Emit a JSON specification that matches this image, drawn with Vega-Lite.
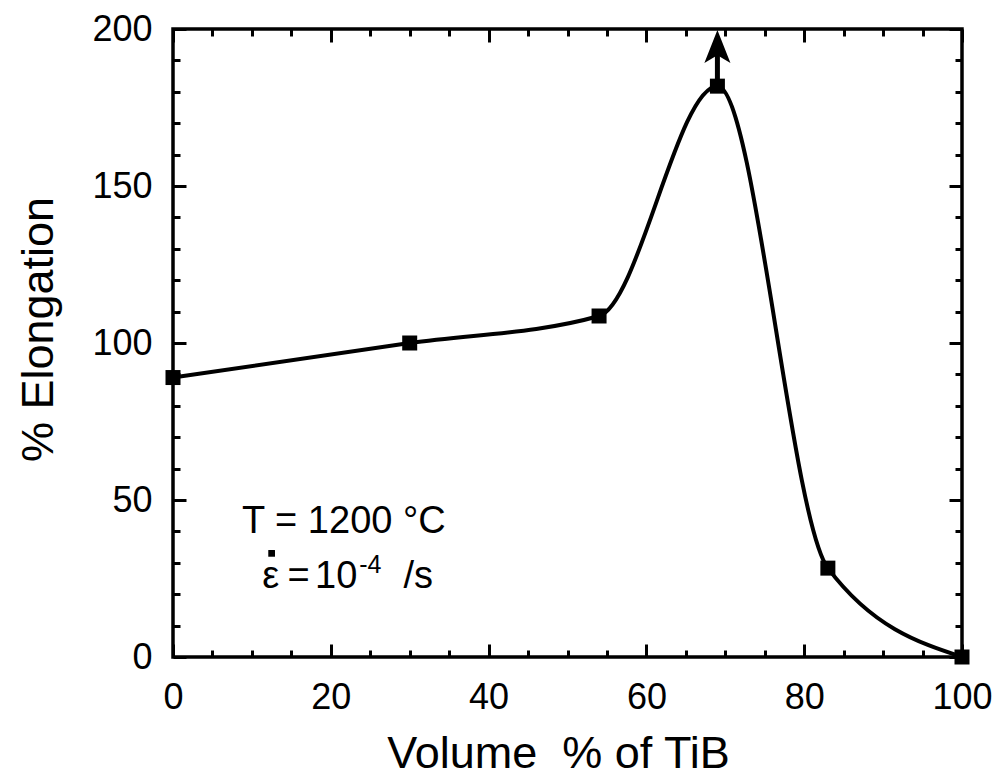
{
  "$schema": "https://vega.github.io/schema/vega-lite/v6.json",
  "autosize": {"type": "none"},
  "padding": {"left": 173, "top": 29, "right": 35, "bottom": 121},
  "width": 789,
  "height": 628,
  "background": "white",
  "config": {
    "font": "Liberation Sans",
    "view": {"stroke": "black", "strokeWidth": 3.5},
    "axis": {"domain": false, "grid": false, "tickColor": "black", "tickWidth": 3, "labelColor": "black", "titleColor": "black", "labelFont": "Liberation Sans", "titleFont": "Liberation Sans", "labelFontSize": 36, "titleFontSize": 45, "titleFontWeight": "normal"}
  },
  "datasets": {
    "pts": [
      {"vol": 0, "elong": 89.0},
      {"vol": 30, "elong": 100.0},
      {"vol": 54, "elong": 108.6},
      {"vol": 69, "elong": 181.8},
      {"vol": 83, "elong": 28.3},
      {"vol": 100, "elong": 0}
    ],
    "arrow": [{"vol": 69, "start": 184, "end": 192, "head": 194.4}],
    "labels": [
      {"x": 8.75, "y": 39.6, "t": "T = 1200 °C"},
      {"x": 11.3, "y": 22.0, "t": "ε"},
      {"x": 14.5, "y": 22.0, "t": "="},
      {"x": 18.0, "y": 22.0, "t": "10"},
      {"x": 29.2, "y": 22.0, "t": "/s"}
    ],
    "sup": [{"x": 23.6, "y": 26.8, "t": "-4"}],
    "dot": [{"x": 12.5, "y": 33.0}]
  },
  "resolve": {"axis": {"x": "independent", "y": "independent"}},
  "layer": [
    {
      "data": {"name": "pts"},
      "mark": {"type": "line", "interpolate": "monotone", "color": "black", "strokeWidth": 4},
      "encoding": {
        "x": {"field": "vol", "type": "quantitative", "scale": {"domain": [0, 100], "nice": false, "zero": false},
          "axis": {"orient": "bottom", "values": [0,5,10,15,20,25,30,35,40,45,50,55,60,65,70,75,80,85,90,95,100],
            "labelExpr": "datum.value % 20 === 0 ? datum.label : ''",
            "tickSize": {"condition": {"test": "datum.value % 20 === 0", "value": -13}, "value": -7},
            "labelBaseline": "alphabetic", "labelPadding": 64, "labelOverlap": false, "labelFlush": false,
            "title": "Volume\u00a0 % of TiB", "titleBaseline": "alphabetic", "titleX": 385, "titleY": 110}},
        "y": {"field": "elong", "type": "quantitative", "scale": {"domain": [0, 200], "nice": false},
          "axis": {"orient": "left", "values": [0,10,20,30,40,50,60,70,80,90,100,110,120,130,140,150,160,170,180,190,200],
            "labelExpr": "datum.value % 50 === 0 ? datum.label : ''",
            "tickSize": {"condition": {"test": "datum.value % 50 === 0", "value": -13}, "value": -7},
            "labelPadding": 34, "labelOverlap": false, "labelFlush": false,
            "title": "% Elongation", "titleBaseline": "alphabetic", "titleX": -121, "titleY": 300}}
      }
    },
    {
      "data": {"name": "pts"},
      "mark": {"type": "point", "shape": "square", "filled": true, "color": "black", "opacity": 1, "size": 225},
      "encoding": {
        "x": {"field": "vol", "type": "quantitative",
          "axis": {"orient": "top", "values": [0,5,10,15,20,25,30,35,40,45,50,55,60,65,70,75,80,85,90,95,100],
            "labels": false, "title": null,
            "tickSize": {"condition": {"test": "datum.value % 20 === 0", "value": -13}, "value": -7}}},
        "y": {"field": "elong", "type": "quantitative",
          "axis": {"orient": "right", "values": [0,10,20,30,40,50,60,70,80,90,100,110,120,130,140,150,160,170,180,190,200],
            "labels": false, "title": null,
            "tickSize": {"condition": {"test": "datum.value % 50 === 0", "value": -13}, "value": -7}}}
      }
    },
    {
      "data": {"name": "arrow"},
      "mark": {"type": "rule", "color": "black", "strokeWidth": 5},
      "encoding": {
        "x": {"field": "vol", "type": "quantitative", "axis": null},
        "y": {"field": "start", "type": "quantitative", "axis": null},
        "y2": {"field": "end"}
      }
    },
    {
      "data": {"name": "arrow"},
      "mark": {"type": "point", "shape": "M0,-1L0.79,1L0,0.52L-0.79,1Z", "filled": true, "color": "black", "opacity": 1, "size": 1089, "strokeWidth": 0},
      "encoding": {
        "x": {"field": "vol", "type": "quantitative", "axis": null},
        "y": {"field": "head", "type": "quantitative", "axis": null}
      }
    },
    {
      "data": {"name": "labels"},
      "mark": {"type": "text", "align": "left", "baseline": "alphabetic", "fontSize": 38, "color": "black", "font": "Liberation Sans"},
      "encoding": {
        "x": {"field": "x", "type": "quantitative", "axis": null},
        "y": {"field": "y", "type": "quantitative", "axis": null},
        "text": {"field": "t"}
      }
    },
    {
      "data": {"name": "sup"},
      "mark": {"type": "text", "align": "left", "baseline": "alphabetic", "fontSize": 25, "color": "black", "font": "Liberation Sans"},
      "encoding": {
        "x": {"field": "x", "type": "quantitative", "axis": null},
        "y": {"field": "y", "type": "quantitative", "axis": null},
        "text": {"field": "t"}
      }
    },
    {
      "data": {"name": "dot"},
      "mark": {"type": "point", "shape": "square", "filled": true, "color": "black", "opacity": 1, "size": 45},
      "encoding": {
        "x": {"field": "x", "type": "quantitative", "axis": null},
        "y": {"field": "y", "type": "quantitative", "axis": null}
      }
    }
  ]
}
